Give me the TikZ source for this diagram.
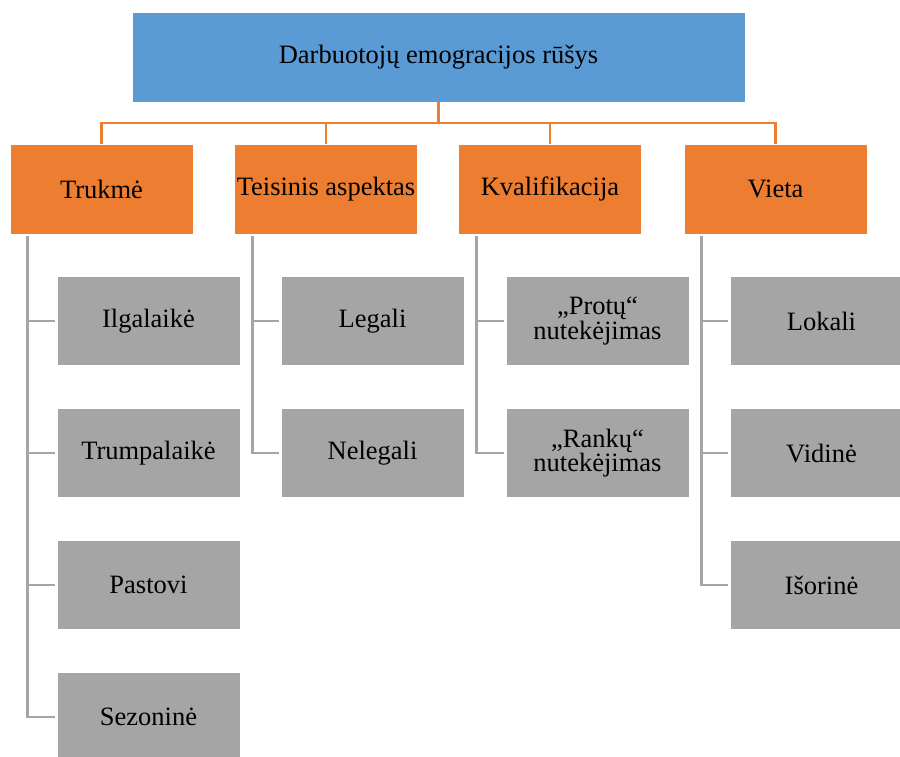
\documentclass[tikz,border=0pt]{standalone}
\usepackage{fontspec}
\setmainfont{Liberation Serif}
\usepackage{tikz}
\usetikzlibrary{positioning,calc}
\definecolor{rootblue}{HTML}{5B9BD5}
\definecolor{grouporange}{HTML}{ED7D31}
\definecolor{leafgray}{HTML}{A5A5A5}

\begin{document}
\begin{tikzpicture}[
  x=1pt, y=-1pt,
  box/.style={
    draw=white, line width=0.6pt, inner sep=0pt, align=center,
    font=\fontsize{26.5}{24.5}\selectfont,
    minimum width=183pt, minimum height=90pt
  },
  root/.style={box, fill=rootblue, minimum width=613pt},
  group/.style={box, fill=grouporange},
  leaf/.style={box, fill=leafgray, minimum height=89pt},
  bus/.style={grouporange, line width=2.7pt},
  link/.style={leafgray, line width=2.7pt, shorten <=2pt, shorten >=2pt}
]
  \useasboundingbox (0,0) rectangle (900,756);

  % Top: root box
  \node[root] (root) at (438.5,57) {Darbuotojų emogracijos rūšys};

  % Second row: groups
  \node[group] (dur)  at (101.5,189) {Trukmė};
  \node[group] (law)  at (326,189)   {Teisinis aspektas};
  \node[group] (qual) at (550,189)   {Kvalifikacija};
  \node[group] (loc)  at (775.5,189) {Vieta};

  % Leaves under each group
  \node[leaf] (dur1) at (148.5,321) {Ilgalaikė};
  \node[leaf] (dur2) at (148.5,453) {Trumpalaikė};
  \node[leaf] (dur3) at (148.5,585) {Pastovi};
  \node[leaf] (dur4) at (148.5,717) {Sezoninė};

  \node[leaf] (law1) at (372.5,321) {Legali};
  \node[leaf] (law2) at (372.5,453) {Nelegali};

  \node[leaf] (qual1) at (597.5,321) {„Protų“\\nutekėjimas};
  \node[leaf] (qual2) at (597.5,453) {„Rankų“\\nutekėjimas};

  \node[leaf] (loc1) at (821.5,321) {Lokali};
  \node[leaf] (loc2) at (821.5,453) {Vidinė};
  \node[leaf] (loc3) at (821.5,585) {Išorinė};

  % Orange bus from root to groups
  \coordinate (split) at (438.5,123);
  \draw[bus] (root.south) -- (split);
  \draw[bus] (split) -| (dur.north);
  \draw[bus] (split) -| (law.north);
  \draw[bus] (split) -| (qual.north);
  \draw[bus] (split) -| (loc.north);

  % Gray links from groups to leaves
  \draw[link] ([xshift=18pt]dur.south west) |- (dur1.west);
  \draw[link] ([xshift=18pt]dur.south west) |- (dur2.west);
  \draw[link] ([xshift=18pt]dur.south west) |- (dur3.west);
  \draw[link] ([xshift=18pt]dur.south west) |- (dur4.west);

  \draw[link] ([xshift=18pt]law.south west) |- (law1.west);
  \draw[link] ([xshift=18pt]law.south west) |- (law2.west);

  \draw[link] ([xshift=18pt]qual.south west) |- (qual1.west);
  \draw[link] ([xshift=18pt]qual.south west) |- (qual2.west);

  \draw[link] ([xshift=18pt]loc.south west) |- (loc1.west);
  \draw[link] ([xshift=18pt]loc.south west) |- (loc2.west);
  \draw[link] ([xshift=18pt]loc.south west) |- (loc3.west);

\end{tikzpicture}
\end{document}
